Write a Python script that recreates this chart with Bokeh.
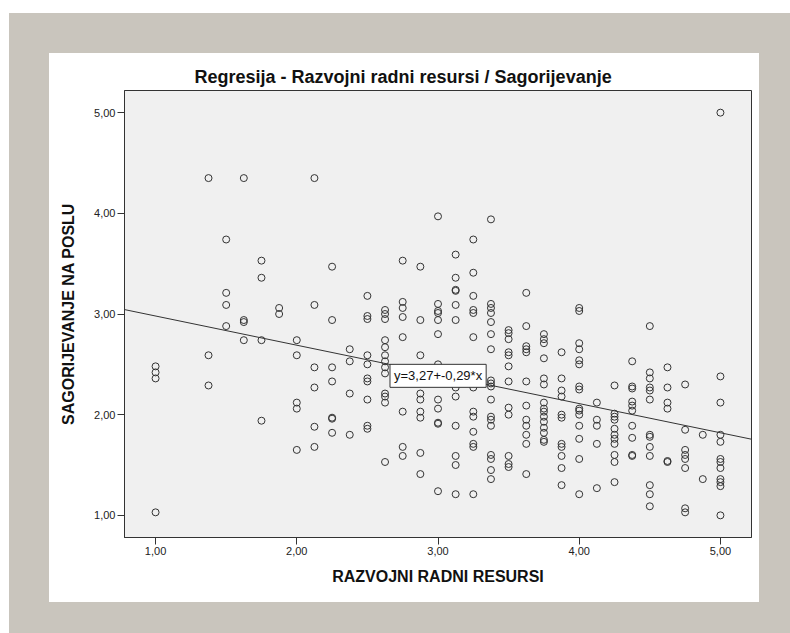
from bokeh.plotting import figure
from bokeh.models import Range1d, FixedTicker, CustomJSTickFormatter, Slope, Label, Spacer, ColumnDataSource
from bokeh.layouts import row, column
from bokeh.embed import file_html
from bokeh.resources import INLINE

# ---- data ----
TITLE = "Regresija - Razvojni radni resursi / Sagorijevanje"
X_LABEL = "RAZVOJNI RADNI RESURSI"
Y_LABEL = "SAGORIJEVANJE NA POSLU"
EQUATION = "y=3,27+-0,29*x"
SLOPE = -0.29
INTERCEPT = 3.27
TICKS = [1, 2, 3, 4, 5]

x_levels = [1.000, 1.375, 1.500, 1.625, 1.750, 1.875, 2.000, 2.125, 2.250, 2.375,
            2.500, 2.625, 2.750, 2.875, 3.000, 3.125, 3.250, 3.375, 3.500, 3.625,
            3.750, 3.875, 4.000, 4.125, 4.250, 4.375, 4.500, 4.625, 4.750, 4.875, 5.000]

sag_1000 = [2.48, 2.42, 2.36, 1.03]
sag_1375 = [4.35, 2.59, 2.29]
sag_1500 = [3.74, 3.21, 3.09, 2.88]
sag_1625 = [4.35, 2.94, 2.92, 2.74]
sag_1750 = [3.53, 3.36, 2.74, 1.94]
sag_1875 = [3.06, 3.00]
sag_2000 = [2.74, 2.59, 2.12, 2.06, 1.65]
sag_2125 = [4.35, 3.09, 2.47, 2.27, 1.88, 1.68]
sag_2250 = [3.47, 2.94, 2.47, 2.33, 1.97, 1.96, 1.82]
sag_2375 = [2.65, 2.53, 2.21, 1.80]
sag_2500 = [3.18, 2.98, 2.95, 2.59, 2.50, 2.36, 2.33, 2.15, 1.89, 1.86]
sag_2625 = [3.04, 3.00, 2.95, 2.74, 2.67, 2.59, 2.53, 2.47, 2.41, 2.21, 2.18, 2.12, 1.53]
sag_2750 = [3.53, 3.12, 3.06, 2.97, 2.77, 2.03, 1.68, 1.59]
sag_2875 = [3.47, 2.94, 2.59, 2.21, 2.15, 2.03, 1.97, 1.62, 1.41]
sag_3000 = [3.97, 3.10, 3.03, 3.01, 2.94, 2.80, 2.50, 2.15, 2.06, 1.92, 1.91, 1.24]
sag_3125 = [3.59, 3.36, 3.24, 3.23, 3.09, 2.94, 2.27, 2.18, 1.89, 1.59, 1.50, 1.21]
sag_3250 = [3.74, 3.41, 3.18, 3.04, 3.01, 2.77, 2.27, 2.03, 1.98, 1.83, 1.71, 1.68, 1.21]
sag_3375 = [3.94, 3.10, 3.06, 3.01, 2.92, 2.80, 2.65, 2.34, 2.31, 2.28, 2.15, 1.98, 1.95,
            1.89, 1.60, 1.56, 1.45, 1.36]
sag_3500 = [2.84, 2.81, 2.75, 2.62, 2.59, 2.48, 2.33, 2.07, 2.00, 1.59, 1.51, 1.48]
sag_3625 = [3.21, 2.88, 2.68, 2.65, 2.62, 2.33, 2.09, 1.95, 1.89, 1.80, 1.71, 1.41]
sag_3750 = [2.80, 2.75, 2.71, 2.56, 2.36, 2.30, 2.12, 2.06, 2.03, 1.98, 1.93, 1.87, 1.82,
            1.75, 1.73]
sag_3875 = [2.62, 2.36, 2.24, 2.18, 2.00, 1.97, 1.71, 1.68, 1.59, 1.47, 1.30]
sag_4000 = [3.06, 3.03, 2.71, 2.65, 2.54, 2.50, 2.28, 2.25, 2.06, 2.04, 2.00, 1.89, 1.76,
            1.56, 1.21]
sag_4125 = [2.12, 1.95, 1.89, 1.71, 1.27]
sag_4250 = [2.29, 2.01, 1.98, 1.95, 1.86, 1.80, 1.76, 1.71, 1.60, 1.53, 1.33]
sag_4375 = [2.53, 2.28, 2.26, 2.13, 2.09, 2.04, 1.89, 1.77, 1.60, 1.59]
sag_4500 = [2.88, 2.42, 2.36, 2.27, 2.24, 2.15, 1.80, 1.78, 1.68, 1.59, 1.30, 1.21, 1.09]
sag_4625 = [2.47, 2.27, 2.12, 2.06, 1.54, 1.53]
sag_4750 = [2.30, 1.85, 1.65, 1.60, 1.56, 1.47, 1.07, 1.03]
sag_4875 = [1.80, 1.36]
sag_5000 = [5.00, 2.38, 2.12, 1.80, 1.73, 1.56, 1.53, 1.47, 1.36, 1.33, 1.29, 1.00]

sag_columns = [sag_1000, sag_1375, sag_1500, sag_1625, sag_1750, sag_1875, sag_2000,
               sag_2125, sag_2250, sag_2375, sag_2500, sag_2625, sag_2750, sag_2875,
               sag_3000, sag_3125, sag_3250, sag_3375, sag_3500, sag_3625, sag_3750,
               sag_3875, sag_4000, sag_4125, sag_4250, sag_4375, sag_4500, sag_4625,
               sag_4750, sag_4875, sag_5000]

xs, ys = [], []
for xv, col in zip(x_levels, sag_columns):
    for yv in col:
        xs.append(xv)
        ys.append(yv)
src = ColumnDataSource(data=dict(x=xs, y=ys))

# ---- styling ----
FONT = "Liberation Sans"
INK = "#333333"
GRAY = "#c9c5bd"
PLOT_BG = "#f0f0f0"

p = figure(width=710, height=549,
           x_range=Range1d(0.78, 5.22), y_range=Range1d(0.78, 5.22),
           output_backend="svg", toolbar_location=None,
           min_border_left=75, min_border_right=8, min_border_top=37, min_border_bottom=65,
           background_fill_color=PLOT_BG, border_fill_color="white",
           outline_line_color=INK, outline_line_width=1)
p.grid.visible = False

p.title.text = TITLE
p.title.align = "left"
p.title.offset = 70
p.title.standoff = 7
p.title.text_font = FONT
p.title.text_font_size = "18px"
p.title.text_font_style = "bold"
p.title.text_color = "#111111"

fmt_code = "return tick.toFixed(2).replace('.', ',');"
for ax in (p.xaxis[0], p.yaxis[0]):
    ax.ticker = FixedTicker(ticks=TICKS)
    ax.formatter = CustomJSTickFormatter(code=fmt_code)
    ax.major_tick_out = 7
    ax.major_tick_in = 0
    ax.minor_tick_out = 0
    ax.minor_tick_in = 0
    ax.major_label_standoff = 2
    ax.axis_line_color = INK
    ax.major_tick_line_color = INK
    ax.major_label_text_font = FONT
    ax.major_label_text_font_size = "11px"
    ax.major_label_text_color = "#222222"
    ax.axis_label_text_font = FONT
    ax.axis_label_text_font_style = "bold"
    ax.axis_label_text_font_size = "16px"
    ax.axis_label_text_color = "#111111"

p.xaxis.axis_label = X_LABEL
p.xaxis.axis_label_standoff = 10
p.yaxis.axis_label = Y_LABEL
p.yaxis.axis_label_standoff = 14

p.scatter("x", "y", source=src, marker="circle", size=7,
          fill_color=None, line_color=INK, line_width=1)

p.add_layout(Slope(gradient=SLOPE, y_intercept=INTERCEPT, line_color=INK, line_width=1))

p.add_layout(Label(x=2.66, y=2.50, text=EQUATION, text_align="left", text_baseline="top",
                   text_font=FONT, text_font_size="13px", text_color="#111111",
                   background_fill_color="white", border_line_color=INK,
                   border_line_width=1, padding=4))

# ---- frame around the chart ----
def gray(w, h):
    return Spacer(width=w, height=h, styles={"background-color": GRAY})

inner = column(gray(781, 40),
               row(gray(40, 549), p, gray(31, 549)),
               gray(781, 31))
layout = column(Spacer(width=790, height=13),
                row(Spacer(width=9, height=620), inner))

open("out.html", "w").write(file_html(layout, INLINE))
